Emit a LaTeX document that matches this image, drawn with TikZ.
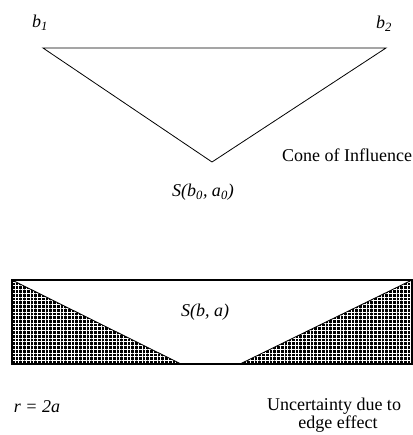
\documentclass[tikz,border=0pt]{standalone}
\usepackage{fontspec}
\setmainfont{Liberation Serif}
\usetikzlibrary{patterns.meta}

\tikzset{
  lbl/.style={font=\fontsize{13.5}{15}\selectfont, inner sep=0pt},
  ilbl/.style={lbl, font=\fontsize{13.5}{15}\selectfont\itshape},
  edgefill/.style={fill=black, postaction={pattern={Hatch[angle=0,distance=2.8pt,line width=0.35pt]}, pattern color=white}},
}

\begin{document}
\begin{tikzpicture}[x=0.75pt,y=-0.75pt]
                \useasboundingbox (0,0) rectangle (413,435);
                % cone of influence
                \coordinate (b1) at (43,48);
                \coordinate (b2) at (386,48);
                \coordinate (s0) at (212,162);
                \draw[line width=0.6pt] (b1) -- (b2) -- (s0) -- cycle;
                \node[ilbl] (lb1) at (40,23) {b\textsubscript{\itshape 1}};
                \node[ilbl] (lb2) at (384,24) {b\textsubscript{\itshape 2}};
                \node[lbl] (coi) at (347,155) {Cone of Influence};
                \node[ilbl] (ls0) at (203,192) {S(b\textsubscript{0}, a\textsubscript{0})};
                % edge effect
                \coordinate (tl) at (12,280);
                \coordinate (tr) at (412,280);
                \coordinate (bl) at (12,364);
                \coordinate (br) at (412,364);
                \coordinate (ml) at (181,364);
                \coordinate (mr) at (240,364);
                \path[edgefill] (tl) -- (ml) -- (bl) -- cycle;
                \path[edgefill] (tr) -- (mr) -- (br) -- cycle;
                \draw[line width=0.8pt] (tl) rectangle (br);
                \draw[line width=0.6pt] (tl) -- (ml);
                \draw[line width=0.6pt] (tr) -- (mr);
                \node[ilbl] (lsa) at (205,312) {S(b, a)};
                \node[ilbl] (lr) at (37,407) {r = 2a};
                \node[lbl] (unc) at (334,406) {Uncertainty due to};
                \node[lbl] (edg) at (338,424) {edge effect};
            \end{tikzpicture}
\end{document}
